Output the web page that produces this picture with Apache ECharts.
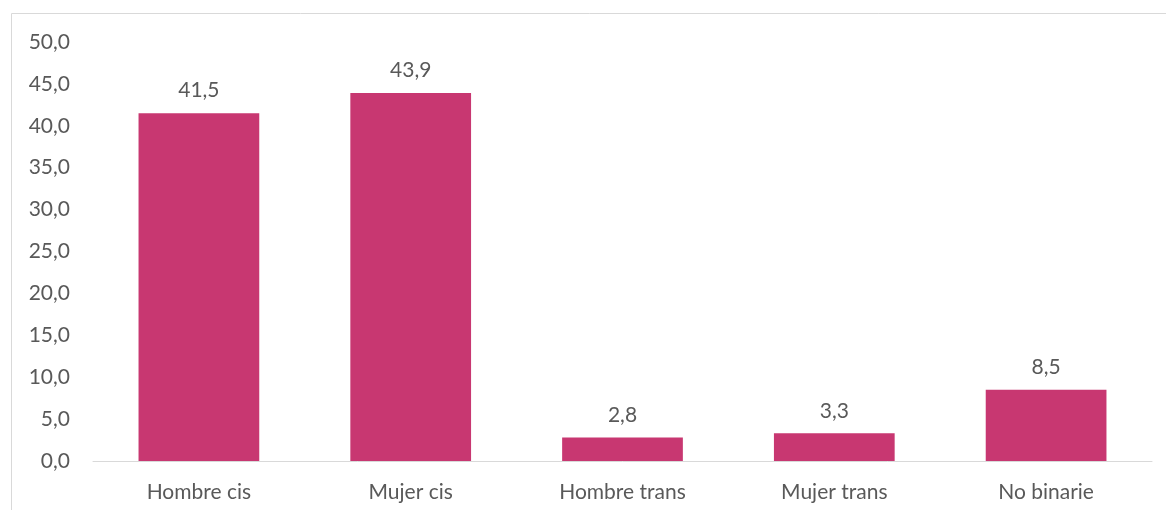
<!DOCTYPE html>
<html>
<head>
<meta charset="utf-8">
<script src="https://cdn.jsdelivr.net/npm/echarts@6/dist/echarts.min.js"></script>
<style>
  html, body { margin: 0; padding: 0; background: #fff; }
  #chart { width: 1166px; height: 510px; }
</style>
</head>
<body>
<div id="chart"></div>
<script>
// datos
var categorias = ['Hombre cis', 'Mujer cis', 'Hombre trans', 'Mujer trans', 'No binarie'];
var valores = [41.5, 43.9, 2.8, 3.3, 8.5];

var fmt = function (v) { return Number(v).toFixed(1).replace('.', ','); };

var chart = echarts.init(document.getElementById('chart'));
var option = {
    animation: false,
    textStyle: { fontFamily: 'Lato, "Open Sans", sans-serif' },
    graphic: [{
        type: 'rect',
        shape: { x: 11.5, y: 13.5, width: 1200, height: 600 },
        style: { fill: 'none', stroke: '#d9d9d9', lineWidth: 1 },
        silent: true
    }],
    grid: { left: 93, right: 14, top: 42, bottom: 49 },
    xAxis: {
        type: 'category',
        data: categorias,
        axisLine: { lineStyle: { color: '#d9d9d9', width: 1 } },
        axisTick: { show: false },
        axisLabel: { color: '#595959', fontSize: 21, margin: 21 }
    },
    yAxis: {
        type: 'value',
        min: 0,
        max: 50,
        interval: 5,
        splitLine: { show: false },
        axisLine: { show: false },
        axisTick: { show: false },
        axisLabel: { color: '#595959', fontSize: 21, margin: 23, formatter: fmt }
    },
    series: [{
        type: 'bar',
        data: valores,
        barWidth: '57%',
        itemStyle: { color: '#C83771' },
        label: {
            show: true,
            position: 'top',
            distance: 12,
            color: '#595959',
            fontSize: 21,
            formatter: function (p) { return fmt(p.value); }
        }
    }]
};
chart.setOption(option);
</script>
</body>
</html>
